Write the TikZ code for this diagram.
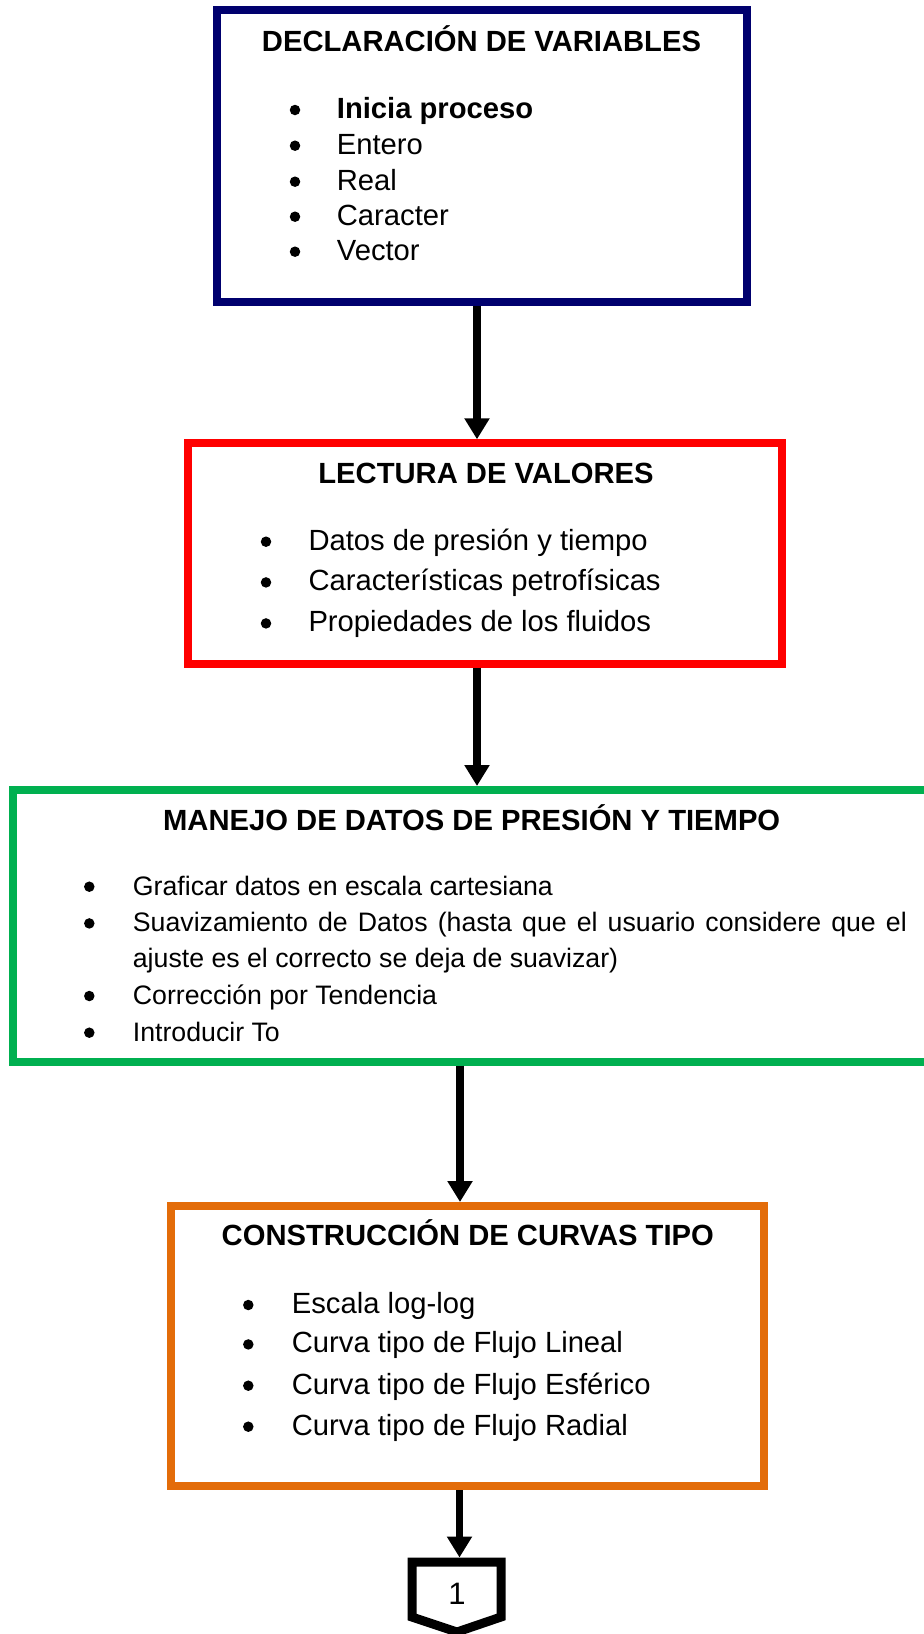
\documentclass[tikz,border=0pt]{standalone}
\usepackage{fontspec}
\setmainfont{Liberation Sans}
\usepackage{xcolor}
\usetikzlibrary{arrows.meta}
\definecolor{cdecl}{RGB}{0,0,110}
\definecolor{clect}{RGB}{255,0,0}
\definecolor{cmanejo}{RGB}{0,176,80}
\definecolor{ccurvas}{RGB}{227,108,9}

\begin{document}
\begin{tikzpicture}[
  x=1pt,y=-1pt,
  caja/.style={rectangle,draw,line width=8pt,fill=white,inner sep=0},
  titulo/.style={anchor=base,inner sep=0,font=\fontsize{29.2}{35}\selectfont\bfseries},
  renglon/.style={anchor=base west,inner sep=0,font=\fontsize{29.2}{35}\selectfont},
  renglonc/.style={renglon,font=\fontsize{26.7}{32}\selectfont},
  punto/.style={circle,fill=black,inner sep=0,minimum size=10.5pt},
  flecha/.style={-{Triangle[length=21pt,width=24pt]},line width=7.5pt},
]
\path[use as bounding box,fill=white] (0,0) rectangle (924,1634);
% --- cajas ---
\node[caja,draw=cdecl,minimum width=530.5pt,minimum height=292pt] (decl) at (481.75,156) {};
\node[caja,draw=clect,minimum width=593.7pt,minimum height=220.2pt] (lect) at (485.15,553.4) {};
\node[caja,draw=cmanejo,minimum width=919.5pt,minimum height=271.5pt] (manejo) at (472.25,925.75) {};
\node[caja,draw=ccurvas,minimum width=593pt,minimum height=280pt] (curvas) at (467.5,1346) {};
% --- declaracion ---
\node[titulo] (tdecl) at (481.5,51) {DECLARACIÓN DE VARIABLES};
\node[punto] (d1) at (295,110) {}; \node[renglon] (e1) at (336.7,118.3) {\bfseries Inicia proceso};
\node[punto] (d2) at (295,145.7) {}; \node[renglon] (e2) at (336.7,154) {Entero};
\node[punto] (d3) at (295,181.7) {}; \node[renglon] (e3) at (336.7,190) {Real};
\node[punto] (d4) at (295,216.7) {}; \node[renglon] (e4) at (336.7,225) {Caracter};
\node[punto] (d5) at (295,251.7) {}; \node[renglon] (e5) at (336.7,260) {Vector};
% --- lectura ---
\node[titulo] (tlect) at (486,483.3) {LECTURA DE VALORES};
\node[punto] (l1) at (266,541.7) {}; \node[renglon] (v1) at (308.3,550) {Datos de presión y tiempo};
\node[punto] (l2) at (266,582.4) {}; \node[renglon] (v2) at (308.3,590.7) {Características petrofísicas};
\node[punto] (l3) at (266,623.4) {}; \node[renglon] (v3) at (308.3,631.7) {Propiedades de los fluidos};
% --- manejo de datos ---
\node[titulo] (tmanejo) at (471.7,830) {MANEJO DE DATOS DE PRESIÓN Y TIEMPO};
\node[punto] (m1) at (89.3,886.7) {}; \node[renglonc] (g1) at (132.7,895) {Graficar datos en escala cartesiana};
\node[punto] (m2) at (89.3,923.4) {}; \node[renglonc] (g2) at (132.7,931.7) {\makebox[774pt][s]{Suavizamiento de Datos (hasta que el usuario considere que el}};
\node[renglonc] (g2b) at (132.7,967.7) {ajuste es el correcto se deja de suavizar)};
\node[punto] (m3) at (89.3,996) {}; \node[renglonc] (g3) at (132.7,1004.3) {Corrección por Tendencia};
\node[punto] (m4) at (89.3,1032.7) {}; \node[renglonc] (g4) at (132.7,1041) {Introducir To};
% --- curvas tipo ---
\node[titulo] (tcurvas) at (467.8,1245.7) {CONSTRUCCIÓN DE CURVAS TIPO};
\node[punto] (c1) at (248.3,1305) {}; \node[renglon] (k1) at (291.7,1313.3) {Escala log-log};
\node[punto] (c2) at (248.3,1344.4) {}; \node[renglon] (k2) at (291.7,1352.7) {Curva tipo de Flujo Lineal};
\node[punto] (c3) at (248.3,1385.7) {}; \node[renglon] (k3) at (291.7,1394) {Curva tipo de Flujo Esférico};
\node[punto] (c4) at (248.3,1426.7) {}; \node[renglon] (k4) at (291.7,1435) {Curva tipo de Flujo Radial};
% --- conector de pagina ---
\node[inner sep=0,anchor=base,font=\fontsize{31}{36}\selectfont] (uno) at (457,1604) {1};
\draw[line width=9pt,line join=miter] (412,1562) -- (501,1562) -- (501,1617) -- (457,1632) -- (412,1617) -- cycle;
\coordinate (pent) at (459.5,1557.5);
% --- flechas ---
\draw[flecha] ([xshift=-4.75pt]decl.south) -- ([xshift=-4.75pt]decl.south |- lect.north);
\draw[flecha] ([xshift=-8.15pt]lect.south) -- ([xshift=-8.15pt]lect.south |- manejo.north);
\draw[flecha] ([xshift=-12.25pt]manejo.south) -- ([xshift=-12.25pt]manejo.south |- curvas.north);
\draw[flecha] ([xshift=-8pt]curvas.south) -- (pent);
\end{tikzpicture}
\end{document}
